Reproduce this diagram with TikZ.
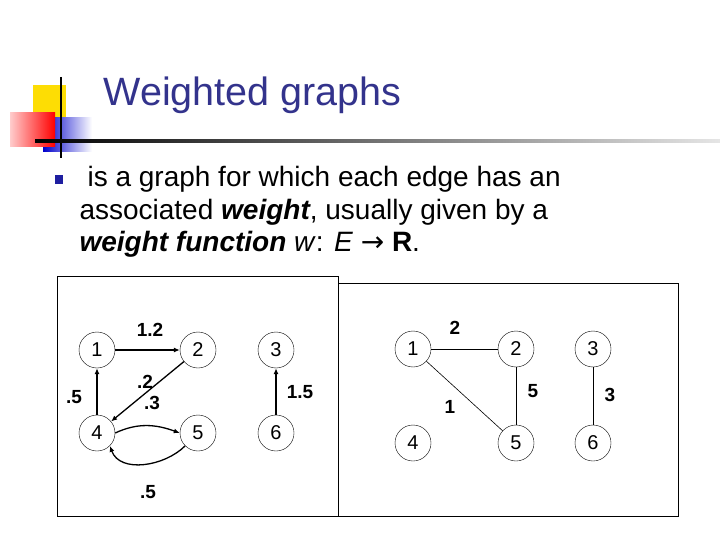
\documentclass[tikz,border=0pt]{standalone}
\usepackage{fontspec}
\setmainfont{Liberation Sans}
\newfontfamily\djv{DejaVu Sans}
\usetikzlibrary{arrows.meta}
\definecolor{ttl}{RGB}{51,51,140}
\definecolor{blt}{RGB}{30,30,160}
\begin{document}
\begin{tikzpicture}[x=1pt,y=-1pt,
  vtx/.style={circle,draw,minimum size=36pt,inner sep=0pt,font=\fontsize{20}{20}\selectfont},
  wl/.style={font=\bfseries\fontsize{19}{19}\selectfont},
  de/.style={line width=1.3pt,-{Latex[length=6pt,width=5pt]}},
  ue/.style={line width=0.6pt},
  body/.style={anchor=west,font=\fontsize{28}{28}\selectfont}]
\useasboundingbox (0,0) rectangle (720,540);
% decoration
\fill[yellow!80!orange] (33,85) rectangle (66,118);
\shade[left color=blue!80!black,right color=white] (43,118) rectangle (92,152);
\shade[left color=red!20,right color=red] (10,113) rectangle (55,147);
\draw[line width=2pt] (61,77) -- (61,158);
\shade[left color=black,right color=white!90!black] (35,140) rectangle (720,142.5);
\node[anchor=west,text=ttl,font=\fontsize{39.5}{39.5}\selectfont] (title) at (100,95) {Weighted graphs};
\fill[blt] (55,175) rectangle (63,184);
\node[body] (l1) at (84,179) {is a graph for which each edge has an};
\node[body] (l2) at (76,212) {associated \textbf{\itshape weight}, usually given by a};
\node[body] (l3) at (76,244) {\textbf{\itshape weight function} \textit{w}: \textit{E} {\djv→} \textbf{R}.};
% left box
\draw[line width=1pt] (57,276) rectangle (338,516);
\node[vtx] (a1) at (97,350) {1};
\node[vtx] (a2) at (198,350) {2};
\node[vtx] (a3) at (276,350) {3};
\node[vtx] (a4) at (97,433) {4};
\node[vtx] (a5) at (198,433) {5};
\node[vtx] (a6) at (276,433) {6};
\draw[de] (a1) -- (a2);
\draw[de] (a2) -- (a4);
\draw[de] (a4) -- (a1);
\draw[de] (a4.east) to[out=25,in=160] (a5.west);
\draw[de] (a5.south west) to[out=225,in=-70] (a4.south east);
\draw[de] (a6) -- (a3);
\node[wl] (w1) at (150,330) {1.2};
\node[wl] (w2) at (145,382) {.2};
\node[wl] (w3) at (152,403) {.3};
\node[wl] (w4) at (74,397) {.5};
\node[wl] (w5) at (148,492) {.5};
\node[wl] (w6) at (300,392) {1.5};
% right box
\draw[line width=1pt] (338,283) rectangle (678,516);
\node[vtx] (b1) at (413,349) {1};
\node[vtx] (b2) at (516,349) {2};
\node[vtx] (b3) at (593,349) {3};
\node[vtx] (b4) at (413,443) {4};
\node[vtx] (b5) at (516,443) {5};
\node[vtx] (b6) at (593,443) {6};
\draw[ue] (b1) -- (b2);
\draw[ue] (b1) -- (b5);
\draw[ue] (b2) -- (b5);
\draw[ue] (b3) -- (b6);
\node[wl] (v1) at (455,328) {2};
\node[wl] (v2) at (533,391) {5};
\node[wl] (v3) at (450,407) {1};
\node[wl] (v4) at (610,395) {3};
\end{tikzpicture}
\end{document}
